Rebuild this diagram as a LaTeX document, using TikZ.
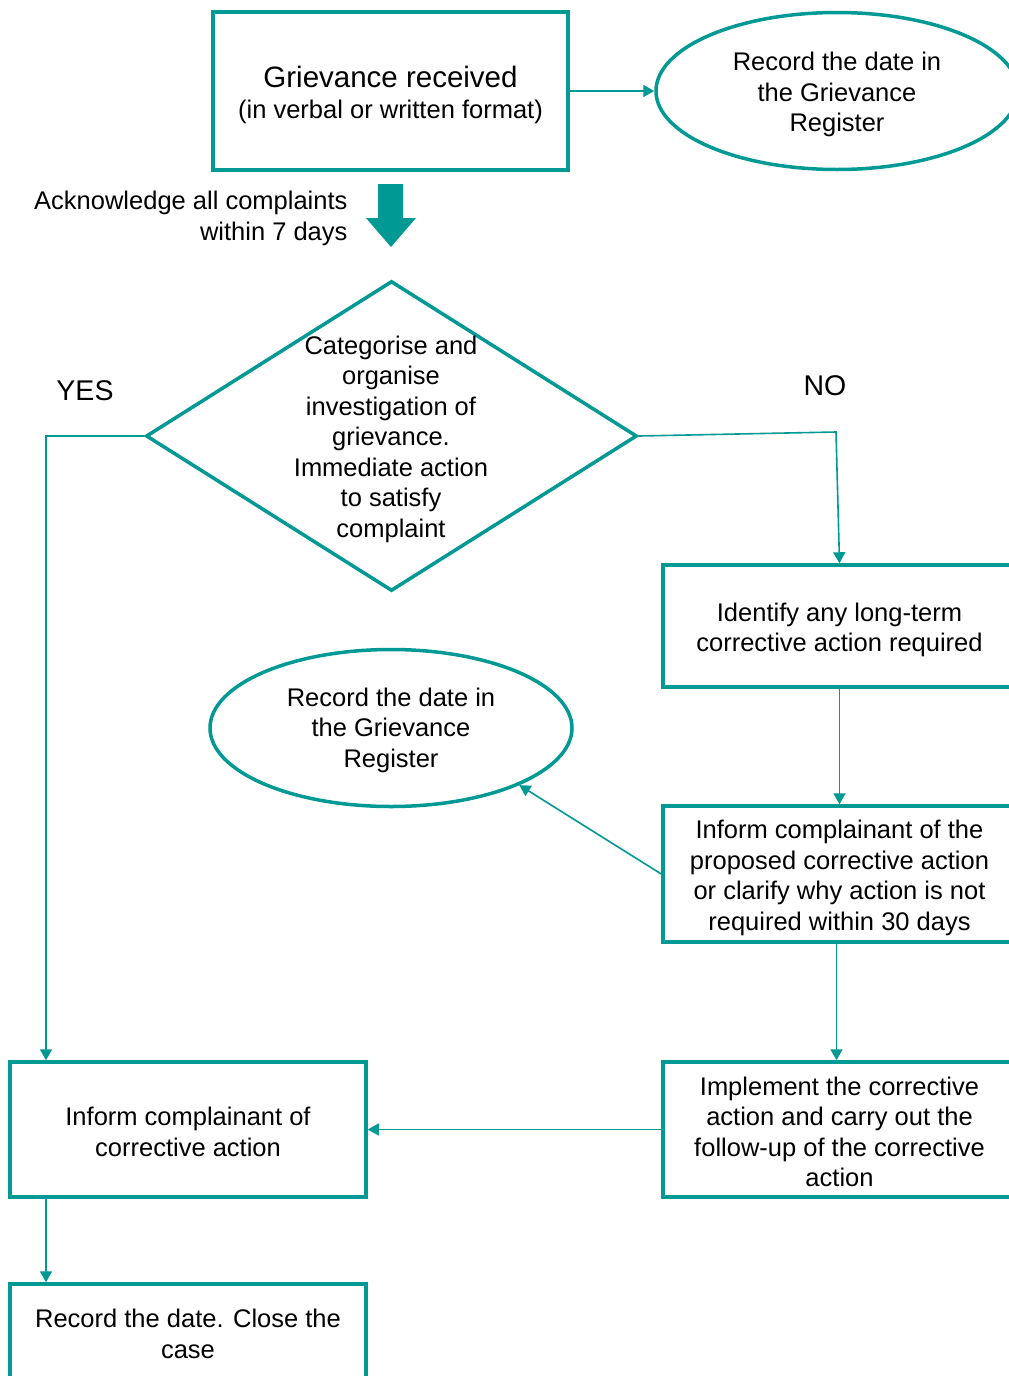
\documentclass[tikz,border=0pt]{standalone}
\usepackage{fontspec}
\setmainfont{Liberation Sans}
\usetikzlibrary{shapes.geometric,arrows.meta}
\definecolor{teal1}{RGB}{0,153,148}
\newcommand{\tpa}{\rule{0pt}{26pt}}
\newcommand{\tpb}{\rule{0pt}{23pt}}
\begin{document}
\begin{tikzpicture}[x=1pt,y=-1pt,
  txt/.style={font=\fontsize{25.5}{30.5}\selectfont, align=center, text=black},
  box/.style={draw=teal1, line width=3.5pt, rectangle, inner sep=0pt, txt},
  oval/.style={draw=teal1, line width=3.5pt, ellipse, inner sep=0pt, txt},
  conn/.style={draw=teal1, line width=1.6pt, -{Triangle[length=11pt,width=12pt]}},
  lab/.style={font=\fontsize{28.5}{32}\selectfont, text=black}]
\useasboundingbox (0,0) rectangle (1009,1376);
\clip (0,0) rectangle (1009,1376);
\fill[white] (0,0) rectangle (1009,1376);

% top
\node[box, minimum width=355pt, minimum height=158pt] (top) at (390.5,91)
  {\fontsize{29.5}{32}\selectfont \rule{0pt}{29pt}Grievance received\\[1pt]\fontsize{25.5}{30}\selectfont (in verbal or written format)};
\node[oval, minimum width=362pt, minimum height=157pt] (reg1) at (837,91)
  {\tpa Record the date in\\the Grievance\\Register};
\draw[conn] (top.east) -- (reg1.west);

% block arrow
\fill[teal1] (378,184) -- (403,184) -- (403,218) -- (416,218) -- (391,247)
  -- (366,218) -- (378,218) -- cycle;
\node[txt, anchor=east, align=right] (ack) at (351,218.5)
  {Acknowledge all complaints\\within 7 days};

% diamond
\node[diamond, draw=teal1, line width=3.5pt, minimum width=491pt, minimum height=310pt, inner sep=0pt] (dec) at (391.5,436) {};
\node[txt] (dectxt) at (391,439)
  {Categorise and\\organise\\investigation of\\grievance.\\Immediate action\\to satisfy\\complaint};
\node[lab] (yes) at (85,391) {YES};
\node[lab] (no) at (825,386) {NO};

% right column
\node[box, minimum width=353pt, minimum height=122pt] (ident) at (839.5,626)
  {\tpa Identify any long-term\\corrective action required};
\node[box, minimum width=353pt, minimum height=136pt] (inform) at (839.5,874)
  {\tpa Inform complainant of the\\proposed corrective action\\or clarify why action is not\\required within 30 days};
\node[box, minimum width=353pt, minimum height=135pt] (impl) at (839.5,1129.5)
  {\tpb Implement the corrective\\action and carry out the\\follow-up of the corrective\\action};

% middle ellipse
\node[oval, minimum width=362pt, minimum height=157pt] (reg2) at (391,728)
  {\tpb Record the date in\\the Grievance\\Register};

% left column
\node[box, minimum width=356pt, minimum height=135pt] (inf1) at (188,1129.5)
  {\tpb Inform complainant of\\corrective action};
\node[box, minimum width=356pt, minimum height=100pt] (close) at (188,1334)
  {Record the date. Close the\\case};

% connectors
\coordinate (nocorner) at (836,432);
\coordinate (yescorner) at (46,436);
\draw[conn] (dec.east) -- (nocorner) -- (ident.north);
\draw[conn] (dec.west) -- (yescorner) -- (yescorner |- inf1.north);
\draw[conn] (ident.south) -- (inform.north);
\draw[conn] (inform.west) -- (reg2.336);
\draw[conn] ([xshift=-3pt]inform.south) -- ([xshift=-3pt]impl.north);
\draw[conn] (impl.west) -- (inf1.east);
\draw[conn] (inf1.south -| yescorner) -- (close.north -| yescorner);
\end{tikzpicture}
\end{document}
